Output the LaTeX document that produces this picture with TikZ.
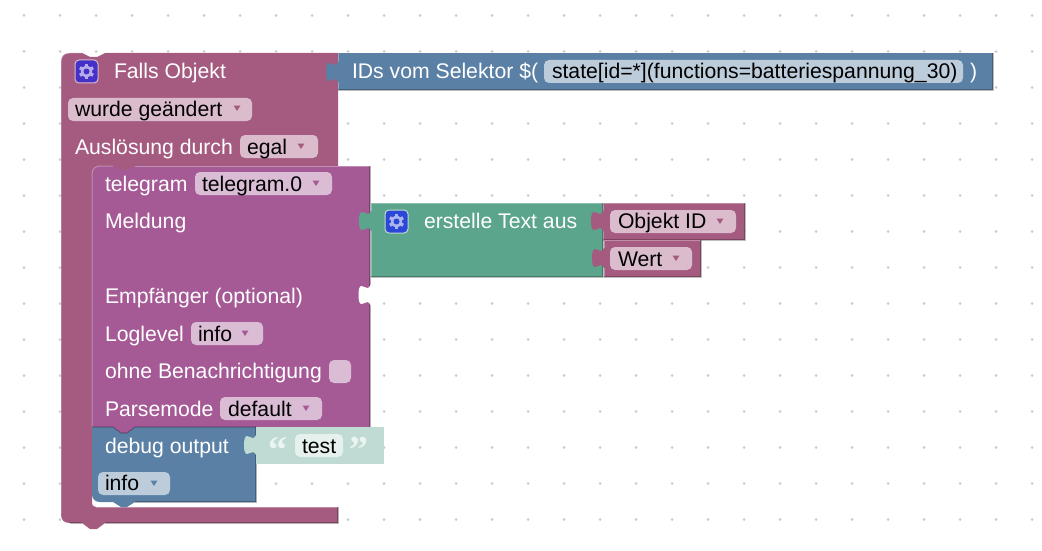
\documentclass[tikz,border=0pt]{standalone}
\usepackage{fontspec}
\setmainfont{Liberation Sans}
\newfontfamily\quotefont{Liberation Serif}
\usepackage{xcolor}
\definecolor{eventcol}{HTML}{A55B80}
\definecolor{telecol}{HTML}{A55A96}
\definecolor{debugcol}{HTML}{5B80A5}
\definecolor{textcol}{HTML}{5BA58C}
\definecolor{shadowcol}{HTML}{C0DBD3}
\definecolor{eventfield}{HTML}{DBBCCC}
\definecolor{telefield}{HTML}{DBBCD5}
\definecolor{debugfield}{HTML}{BDCCDB}
\definecolor{gridcol}{HTML}{CCCCCC}
\definecolor{iconviolet}{HTML}{4530C8}
\definecolor{iconblue}{HTML}{2B47D5}
\tikzset{
   blocktext/.style={anchor=base west,inner sep=0,outer sep=0,text=white,
      font=\fontsize{21.2}{24}\selectfont},
   fieldtext/.style={blocktext,text=black},
   quotetext/.style={blocktext,text=white!70!shadowcol,
      font=\quotefont\bfseries\fontsize{38}{38}\selectfont},
   hilite/.style={white,opacity=0.3,line width=1pt},
   lowlite/.style={black,opacity=0.25,line width=1.2pt},
}
% left tab of a block, given the edge and the top of the tab
\newcommand{\puzzletab}[3]{
   \fill[#3,shift={(#1,#2)}] (1,-1) -- (0,-1) .. controls (-1,1) and (-2,2) .. (-3,2)
   .. controls (-5,2) and (-7,0) .. (-9,0)
   .. controls (-11,0) and (-12,3) .. (-12,9)
   .. controls (-12,15) and (-11,18) .. (-9,18)
   .. controls (-7,18) and (-5,16) .. (-3,16)
   .. controls (-2,16) and (-1,17) .. (0,19) -- (1,19) -- cycle;
}
\newcommand{\bevel}[4]{
   \draw[hilite] (#1,#4) -- (#1,#2) -- (#3,#2);
   \draw[lowlite] (#1,#4) -- (#3,#4) -- (#3,#2);
}
\newcommand{\dropfield}[5]{
   \fill[#5,rounded corners=5pt] (#1,#2) rectangle (#3,#4);
}
\newcommand{\droptip}[3]{
   \fill[#3,shift={(#1,#2)}] (-3.5,-2.5) -- (3.5,-2.5) -- (0,3) -- cycle;
}
\newcommand{\gearicon}[4]{
   \begin{scope}[shift={(#1,#2)}]
      \fill[#3,draw=#4,line width=1pt,rounded corners=4pt] (-11.5,-11.5) rectangle (11.5,11.5);
      \foreach \a in {30,90,...,330}
         \draw[white!60!#3,line width=3.4pt] (0,0) -- (\a:7.6);
      \fill[white!60!#3] (0,0) circle (5.7);
      \fill[#3] (0,0) circle (3);
   \end{scope}
}

\begin{document}
\begin{tikzpicture}[x=1pt,y=-1pt]
   \useasboundingbox (0,0) rectangle (1042,551);
   \fill[white] (0,0) rectangle (1042,551);

   \foreach \i in {0,...,28}
      \foreach \j in {0,...,14}
         \fill[gridcol] (24+36*\i,15.5+36*\j) circle (1.5);

   % the event block
   \fill[eventcol] (61,62) .. controls (61,56) and (64,53) .. (70,53) -- (82,53)
   -- (90,57) -- (97,57) -- (105,53) -- (338,53) -- (338,172) -- (100,172)
   -- (92,174) -- (92,503) .. controls (92,505) and (93,507) .. (96,507)
   -- (338,507) -- (338,523) -- (105,523) -- (97,529) -- (90,529) -- (82,523)
   -- (70,523) .. controls (64,523) and (61,520) .. (61,514) -- cycle;
   \draw[hilite] (61,514) -- (61,62) .. controls (61,56) and (64,53) .. (70,53) -- (82,53);
   \draw[hilite] (105,53) -- (338,53);
   \draw[hilite] (96,507) -- (338,507);
   \draw[lowlite] (70,523) -- (82,523);
   \draw[lowlite] (105,523) -- (338,523) -- (338,507);

   % selector value
   \fill[debugcol] (338,53) rectangle (993,90);
   \bevel{338}{53}{993}{90}
   \puzzletab{338}{63}{debugcol}
   \dropfield{544}{60}{963}{83}{debugfield}

   % telegram block
   \fill[telecol] (92,174) .. controls (92,169) and (95,166) .. (100,166) -- (113,166)
   -- (121,170) -- (127,170) -- (135,166) -- (370,166) -- (370,427) -- (92,427) -- cycle;
   \draw[hilite] (92,427) -- (92,174) .. controls (92,169) and (95,166) .. (100,166) -- (113,166);
   \draw[hilite] (135,166) -- (370,166);
   \draw[lowlite] (370,166) -- (370,427);
   \puzzletab{370.5}{286}{white}

   % debug block
   \fill[debugcol] (92,427) -- (256,427) -- (256,502) -- (135,502) -- (127,507)
   -- (121,507) -- (113,502) -- (100,502) .. controls (95,502) and (92,499) .. (92,494) -- cycle;
   \draw[lowlite] (135,502) -- (256,502) -- (256,427);
   \fill[telecol] (113,427) -- (121,433) -- (127,433) -- (135,427) -- cycle;
   \draw[lowlite] (92,427) -- (113,427) -- (121,433) -- (127,433) -- (135,427) -- (256,427);

   % text shadow
   \fill[shadowcol] (256,427) rectangle (384,464);
   \puzzletab{256}{436}{shadowcol}
   \fill[white!60!shadowcol,rounded corners=5pt] (295,434) rectangle (343,457);

   % green block and its values
   \fill[textcol] (371,203) rectangle (603,277);
   \bevel{371}{203}{603}{277}
   \puzzletab{371}{212}{textcol}
   \fill[eventcol] (603,203) rectangle (745,240);
   \bevel{603}{203}{745}{240}
   \puzzletab{603}{212}{eventcol}
   \fill[eventcol] (604,240) rectangle (701,277);
   \bevel{604}{240}{701}{277}
   \puzzletab{604}{249}{eventcol}

   % fields
   \dropfield{68}{98}{252}{121}{eventfield}
   \dropfield{240}{135}{318}{158}{eventfield}
   \dropfield{195}{172}{332}{195}{telefield}
   \dropfield{191}{322}{263}{345}{telefield}
   \dropfield{329}{360}{351}{383}{telefield}
   \dropfield{220}{397}{322}{420}{telefield}
   \dropfield{98}{472}{170}{495}{debugfield}
   \dropfield{610}{210}{736}{233}{eventfield}
   \dropfield{610}{247}{692}{270}{eventfield}
   \droptip{237}{108}{eventcol}
   \droptip{301}{146}{eventcol}
   \droptip{316}{183}{telecol}
   \droptip{245}{333}{telecol}
   \droptip{306}{408}{telecol}
   \droptip{154}{483}{debugcol}
   \droptip{720}{221}{eventcol}
   \droptip{676}{258}{eventcol}

   \gearicon{86.5}{71.5}{iconviolet}{eventfield}
   \gearicon{396.5}{221.5}{iconblue}{shadowcol}

   % labels
   \node[blocktext] (falls) at (114,79) {Falls Objekt};
   \node[blocktext] (ids) at (352,79) {IDs vom Selektor \$(};
   \node[fieldtext] (state) at (552,79) {state[id=*](functions=batteriespannung\_30)};
   \node[blocktext] (close) at (970,79) {)};
   \node[fieldtext] (changed) at (75,116) {wurde geändert};
   \node[blocktext] (trigger) at (75,154) {Auslösung durch};
   \node[fieldtext] (egal) at (247,154) {egal};
   \node[blocktext] (telegram) at (105,191) {telegram};
   \node[fieldtext] (instance) at (202,191) {telegram.0};
   \node[blocktext] (message) at (105,228) {Meldung};
   \node[blocktext] (create) at (424,228) {erstelle Text aus};
   \node[fieldtext] (objid) at (618,228) {Objekt ID};
   \node[fieldtext] (value) at (618,266) {Wert};
   \node[blocktext] (receiver) at (105,303) {Empfänger (optional)};
   \node[blocktext] (loglevel) at (105,341) {Loglevel};
   \node[fieldtext] (loginfo) at (198,341) {info};
   \node[blocktext] (silent) at (105,378) {ohne Benachrichtigung};
   \node[blocktext] (parse) at (105,416) {Parsemode};
   \node[fieldtext] (default) at (228,416) {default};
   \node[blocktext] (debug) at (105,453) {debug output};
   \node[fieldtext] (test) at (302,453) {test};
   \node[fieldtext] (debuginfo) at (105,490) {info};
   \node[quotetext] (open) at (268,462) {“};
   \node[quotetext] (shut) at (349,462) {”};
\end{tikzpicture}
\end{document}
